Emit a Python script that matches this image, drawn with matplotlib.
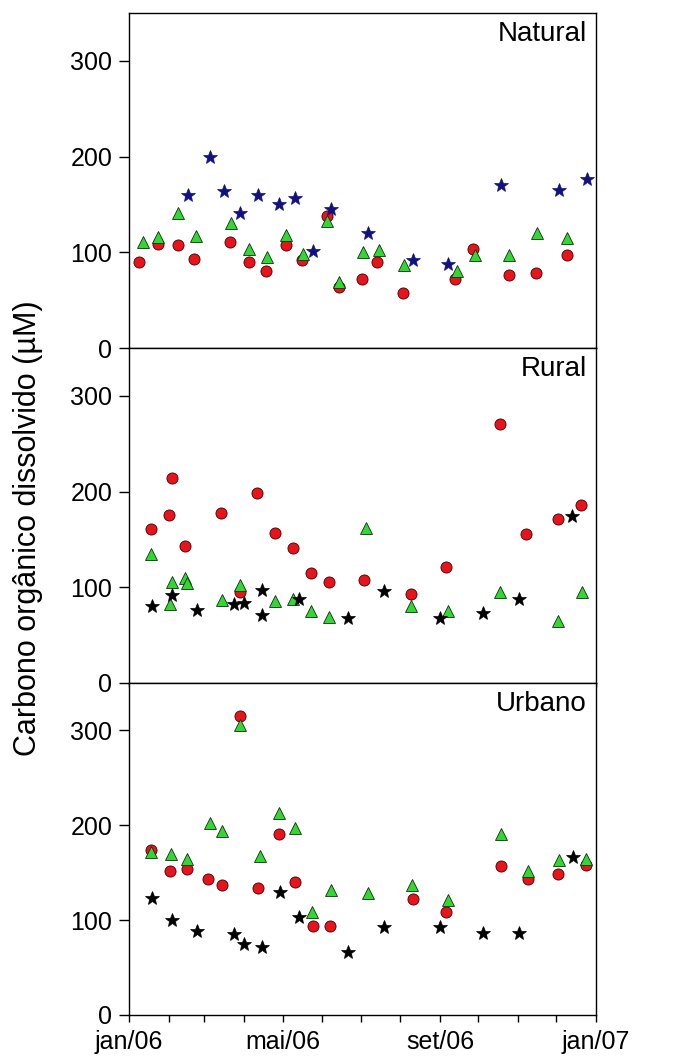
import numpy as np
import matplotlib
matplotlib.use('Agg')
import matplotlib.pyplot as plt
import matplotlib.dates as mdates
from matplotlib.ticker import FuncFormatter

plt.rcParams['font.family'] = ['Liberation Sans', 'DejaVu Sans']

# sampling days, counted from 1 jan 2006
nat_red_day = [8, 23, 38, 51, 79, 94, 107, 123, 135, 155, 164, 182, 194, 214, 255, 269, 297, 318, 342]
nat_red_val = [90, 109, 108, 93, 111, 90, 80, 108, 92, 138, 64, 72, 90, 58, 72, 103, 76, 78, 97]
nat_grn_day = [11, 23, 38, 52, 80, 94, 108, 123, 136, 155, 164, 183, 195, 215, 256, 270, 297, 319, 342]
nat_grn_val = [111, 116, 141, 117, 131, 103, 95, 118, 98, 133, 69, 100, 102, 87, 80, 97, 97, 120, 115]
nat_star_day = [46, 63, 74, 87, 101, 117, 130, 144, 158, 187, 222, 249, 291, 336, 358]
nat_star_val = [160, 200, 164, 141, 160, 150, 157, 101, 145, 120, 92, 88, 170, 165, 177]

rur_red_day = [17, 31, 34, 44, 72, 87, 100, 114, 128, 142, 156, 184, 220, 248, 290, 310, 335, 353]
rur_red_val = [161, 175, 214, 143, 178, 95, 199, 157, 141, 115, 105, 108, 93, 121, 271, 156, 171, 186]
rur_grn_day = [17, 32, 34, 44, 45, 73, 87, 114, 128, 142, 156, 185, 220, 249, 290, 335, 354]
rur_grn_val = [135, 83, 106, 110, 104, 87, 102, 86, 88, 75, 69, 162, 80, 75, 95, 65, 95]
rur_star_day = [18, 34, 53, 82, 90, 104, 104, 133, 171, 199, 243, 277, 305, 346]
rur_star_val = [80, 92, 76, 82, 84, 97, 71, 88, 68, 96, 68, 73, 88, 174]

urb_red_day = [17, 32, 45, 62, 73, 87, 101, 117, 130, 144, 157, 222, 248, 291, 312, 335, 357]
urb_red_val = [174, 152, 154, 143, 137, 315, 134, 191, 140, 94, 94, 122, 109, 157, 143, 149, 158]
urb_grn_day = [17, 33, 45, 63, 73, 87, 102, 117, 130, 143, 158, 187, 221, 249, 291, 312, 336, 357]
urb_grn_val = [172, 170, 164, 202, 194, 306, 168, 213, 197, 109, 132, 129, 137, 121, 191, 152, 163, 164]
urb_star_day = [18, 34, 53, 82, 90, 104, 118, 133, 171, 199, 243, 277, 305, 347]
urb_star_val = [123, 100, 88, 85, 75, 72, 130, 103, 66, 93, 93, 86, 86, 167]

panels = ['Natural', 'Rural', 'Urbano']
meses = ['jan', 'fev', 'mar', 'abr', 'mai', 'jun', 'jul', 'ago', 'set', 'out', 'nov', 'dez']

start = np.datetime64('2006-01-01')

def to_date(days):
    return start + np.array(days, dtype='timedelta64[D]')

def pt_fmt(x, pos):
    d = mdates.num2date(x)
    return f'{meses[d.month - 1]}/{d.strftime("%y")}'

data = [
    (nat_red_day, nat_red_val, nat_grn_day, nat_grn_val, nat_star_day, nat_star_val, '#12127e'),
    (rur_red_day, rur_red_val, rur_grn_day, rur_grn_val, rur_star_day, rur_star_val, 'black'),
    (urb_red_day, urb_red_val, urb_grn_day, urb_grn_val, urb_star_day, urb_star_val, 'black'),
]

fig = plt.figure(figsize=(6.77, 10.61), dpi=100)
left, width = 0.1905, 0.690
bottoms = [0.672, 0.3563, 0.0434]
heights = [0.3157, 0.3157, 0.3129]

for i, (rd, rv, gd, gv, sd, sv, scol) in enumerate(data):
    ax = fig.add_axes([left, bottoms[i], width, heights[i]])
    ax.plot(to_date(rd), rv, 'o', ms=8, mfc='#e8141c', mec='#400000', mew=0.6, zorder=3)
    ax.plot(to_date(gd), gv, '^', ms=9, mfc='#33d633', mec='#103010', mew=0.6, zorder=3)
    ax.plot(to_date(sd), sv, '*', ms=10.5, mfc=scol, mec=scol, mew=0.5, zorder=4)

    ax.set_xlim(np.datetime64('2006-01-01'), np.datetime64('2007-01-01'))
    ax.set_ylim(0, 350)
    ax.set_yticks([0, 100, 200, 300])
    ax.tick_params(axis='y', direction='out', length=7, width=1, labelsize=18, pad=5)
    ax.text(0.98, 0.975, panels[i], transform=ax.transAxes, ha='right', va='top', fontsize=20)
    for s in ax.spines.values():
        s.set_linewidth(1)

    ax.xaxis.set_major_locator(mdates.MonthLocator(bymonth=[1, 5, 9]))
    ax.xaxis.set_minor_locator(mdates.MonthLocator())
    if i == 2:
        ax.xaxis.set_major_formatter(FuncFormatter(pt_fmt))
        ax.tick_params(axis='x', which='both', direction='out', length=5, width=1, labelsize=18, pad=6)
    elif i == 1:
        ax.tick_params(axis='x', which='both', direction='out', length=3, width=1, labelbottom=False)
    else:
        ax.tick_params(axis='x', which='both', length=0, labelbottom=False)

fig.text(0.041, 0.502, 'Carbono orgânico dissolvido (µM)', rotation=90,
         ha='center', va='center', fontsize=22)

plt.savefig('out.png', dpi=100)
